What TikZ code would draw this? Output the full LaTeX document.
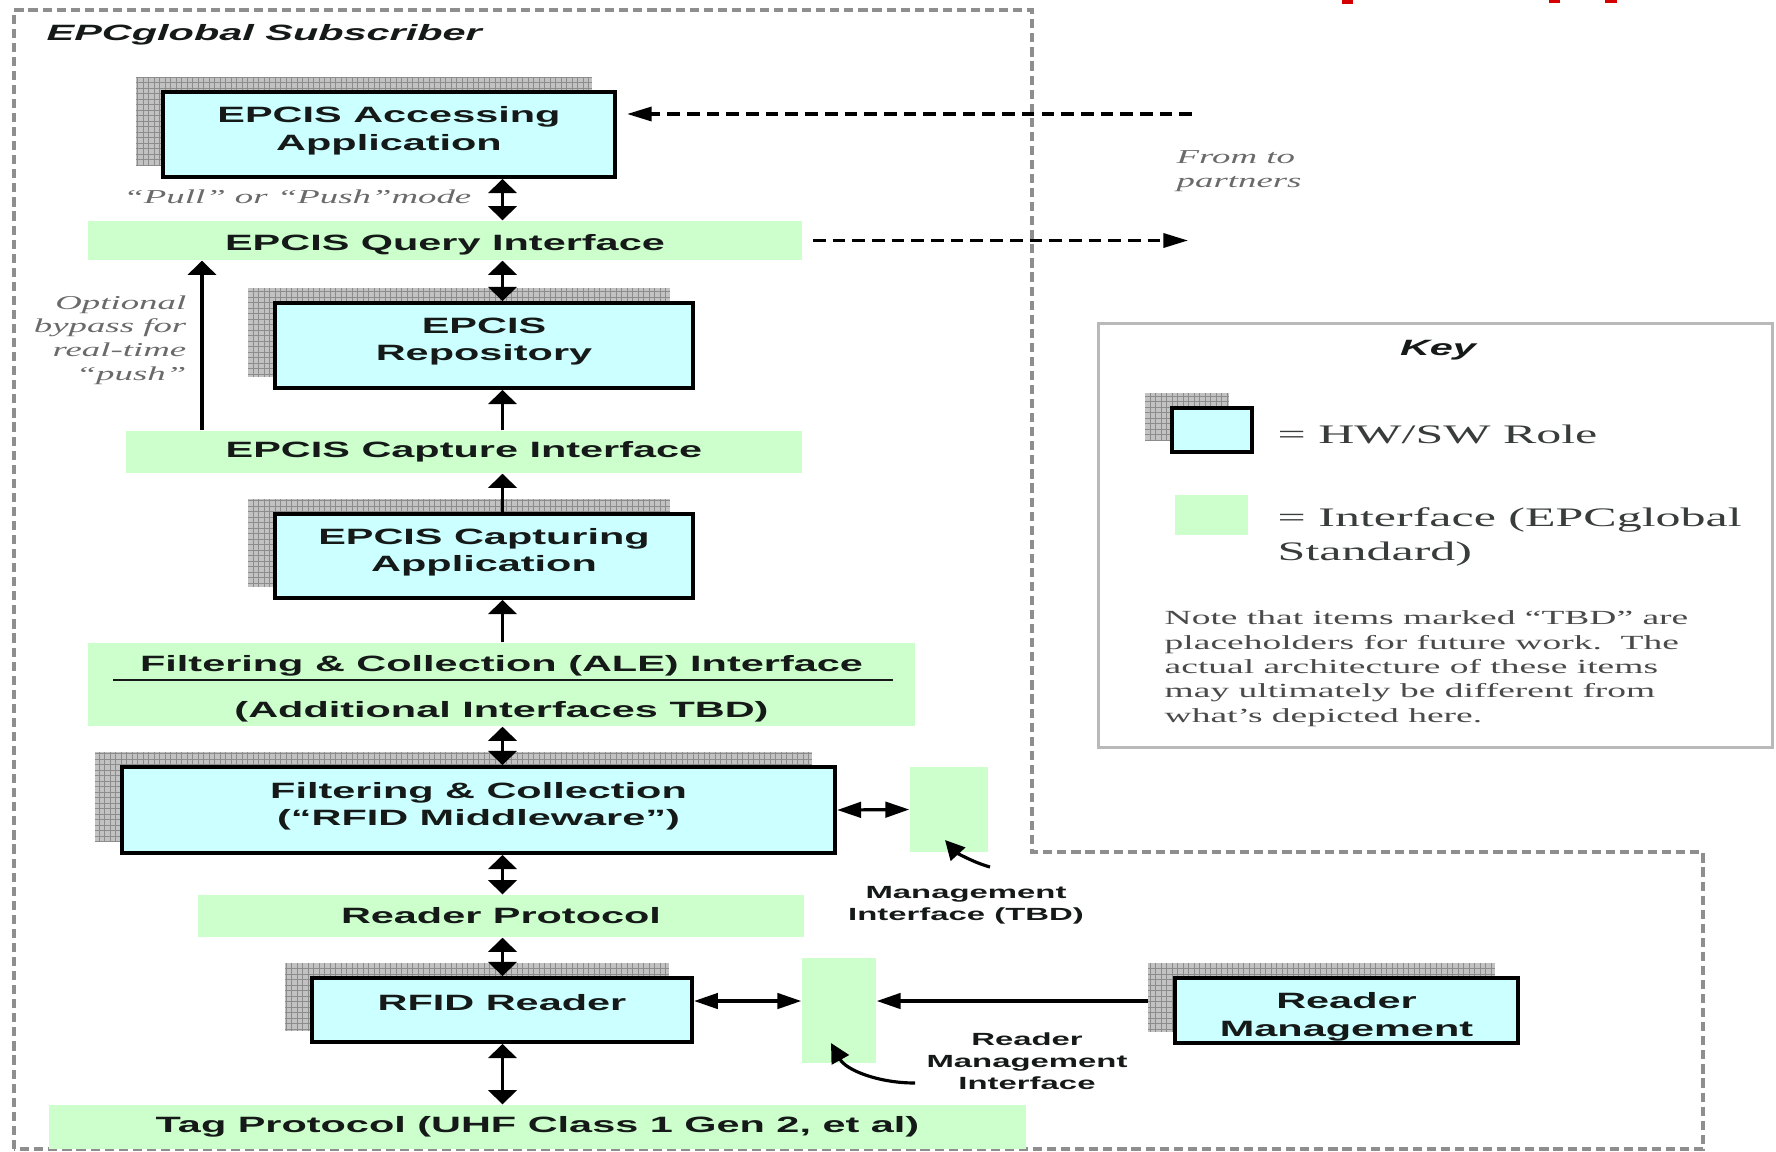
\documentclass[tikz,border=0pt]{standalone}
\usepackage{fontspec}
\setmainfont{Liberation Serif}
\newfontfamily\sfst[FakeStretch=1.87]{Liberation Sans}
\newfontfamily\rmst[FakeStretch=1.87]{Liberation Serif}
\usetikzlibrary{arrows.meta,backgrounds}
\definecolor{rolecyan}{HTML}{CCFFFF}
\definecolor{ifgreen}{HTML}{CCFFCC}
\definecolor{inkdark}{HTML}{151A18}
\definecolor{bordgray}{HTML}{8E8E8E}
\definecolor{labgray}{HTML}{6A6A6A}
\definecolor{notegray}{HTML}{4A4A4A}
\definecolor{shadegray}{HTML}{C2C2C2}
\definecolor{shadeline}{HTML}{8C8C8C}
\definecolor{slidered}{HTML}{D40000}
\newcommand\dgLbl{\sfst\bfseries\fontsize{6.3}{7.8}\selectfont}
\newcommand\dgTitle{\sfst\bfseries\itshape\fontsize{6.3}{7.6}\selectfont}
\newcommand\dgSml{\sfst\bfseries\fontsize{5.0}{6.2}\selectfont}
\newcommand\dgIt{\rmst\itshape\fontsize{5.6}{6.7}\selectfont}
\newcommand\dgKey{\rmst\fontsize{7.6}{9.4}\selectfont}
\newcommand\dgNote{\rmst\fontsize{5.7}{6.9}\selectfont}
\newcommand\dgLow{\rule[-0.12cm]{0pt}{0.12cm}}
\newcommand\gridshade[1]{%
  \path ([xshift=-0.25cm,yshift=0.13cm]#1.south west) coordinate (gsA)
        ([xshift=-0.25cm,yshift=0.13cm]#1.north east) coordinate (gsB);
  \begin{scope}
    \clip (gsA) rectangle (gsB);
    \fill[shadegray] (gsA) rectangle (gsB);
    \draw[shadeline,line width=0.25pt,step=0.055cm] (gsA) grid (gsB);
  \end{scope}}
\begin{document}
\begin{tikzpicture}[x=0.01cm,y=-0.01cm,
  rolebox/.style={draw=black,line width=1.1pt,fill=rolecyan,inner sep=0pt,font=\dgLbl,align=center,text=inkdark},
  ifband/.style={fill=ifgreen,inner sep=0pt,font=\dgLbl,align=center,text=inkdark},
  txt/.style={inner sep=0pt},
  dblv/.style={line width=1.1pt,{Triangle[length=4pt,width=8pt]}-{Triangle[length=4pt,width=8pt]}},
  upv/.style={line width=1.1pt,-{Triangle[length=4pt,width=8pt]}},
  dblh/.style={line width=0.9pt,{Triangle[length=6.8pt,width=4.4pt]}-{Triangle[length=6.8pt,width=4.4pt]}},
  dasharr/.style={line width=0.9pt,dash pattern=on 3.6pt off 2pt,-{Triangle[length=7pt,width=4pt]}},
  curvarr/.style={line width=0.9pt,-{Triangle[length=5.5pt,width=5.5pt]}},
  subbound/.style={draw=bordgray,line width=1.05pt,dash pattern=on 2.6pt off 1.4pt}]
\useasboundingbox (0,0) rectangle (1776,1151);

% subscriber boundary
\draw[subbound] (14,1149) -- (14,10) -- (1032,10) -- (1032,852) -- (1703,852) -- (1703,1149) -- cycle;
\node[txt,font=\dgTitle,text=inkdark,anchor=base west] (title) at (46,40) {EPCglobal Subscriber};

% slide title fragments
\fill[slidered] (1342,0) rectangle (1353,4);
\fill[slidered] (1549,0) rectangle (1560,3);
\fill[slidered] (1605,0) rectangle (1617,3);

% key box
\node[draw=gray!55,line width=0.9pt,minimum width=6.73cm,minimum height=4.23cm,inner sep=0pt] (keybox) at (1435.5,535.5) {};
\node[txt,font=\dgTitle,text=inkdark,anchor=base] (keyttl) at (1438,355) {Key};
\node[rolebox,line width=1pt,minimum width=0.80cm,minimum height=0.44cm] (keyrole) at (1212,430) {};
\node[ifband,minimum width=0.73cm,minimum height=0.40cm] (keyif) at (1211.5,515) {};
\node[txt,font=\dgKey,text=inkdark!85,anchor=base west] (keyrolelab) at (1277,443) {= HW/SW Role};
\node[txt,font=\dgKey,text=inkdark!85,align=left,anchor=base west] (keyiflab) at (1277,560) {= Interface (EPCglobal\\Standard)};
\node[txt,font=\dgNote,text=notegray,align=left,anchor=base west] (note) at (1164,722)
  {Note that items marked “TBD” are\\placeholders for future work.\ \ The\\actual architecture of these items\\may ultimately be different from\\what’s depicted here.};

% interface bands
\node[ifband,minimum width=7.14cm,minimum height=0.39cm] (query) at (445,240.5) {\rule{0pt}{0.24cm}EPCIS Query Interface};
\node[ifband,minimum width=6.76cm,minimum height=0.42cm] (capture) at (464,452) {EPCIS Capture Interface};
\node[ifband,minimum width=8.27cm,minimum height=0.83cm] (ale) at (501.5,684.5) {};
\node[txt,font=\dgLbl,text=inkdark,anchor=base] (aleA) at (501.5,671) {Filtering \& Collection (ALE) Interface};
\node[txt,font=\dgLbl,text=inkdark,anchor=base] (aleB) at (501.5,717) {(Additional Interfaces TBD)};
\draw[inkdark,line width=0.75pt] (113,680) -- (893,680);
\node[ifband,minimum width=0.78cm,minimum height=0.85cm] (mgmt) at (949,809.5) {};
\node[ifband,minimum width=6.06cm,minimum height=0.42cm] (rp) at (501,916) {Reader Protocol};
\node[ifband,minimum width=0.74cm,minimum height=1.05cm] (rmi) at (839,1010.5) {};
\node[ifband,minimum width=9.76cm,minimum height=0.44cm] (tag) at (537.5,1127) {Tag Protocol (UHF Class 1 Gen 2, et al)};

% role boxes
\node[rolebox,minimum width=4.52cm,minimum height=0.85cm] (acc) at (389,134.5) {EPCIS Accessing\\Application\dgLow};
\node[rolebox,minimum width=4.18cm,minimum height=0.85cm] (repo) at (484,345.5) {EPCIS\\Repository\dgLow};
\node[rolebox,minimum width=4.18cm,minimum height=0.84cm] (capting) at (484,556) {EPCIS Capturing\\Application\dgLow};
\node[rolebox,minimum width=7.13cm,minimum height=0.86cm] (filt) at (478.5,810) {Filtering \& Collection\\(“RFID Middleware”)\dgLow};
\node[rolebox,minimum width=3.80cm,minimum height=0.64cm] (rfid) at (502,1010) {RFID Reader\rule[-0.16cm]{0pt}{0.16cm}};
\node[rolebox,minimum width=3.43cm,minimum height=0.65cm] (rmgr) at (1346.5,1010.5) {\rule{0pt}{0.29cm}Reader\\Management};

% labels
\node[txt,font=\dgIt,text=labgray,anchor=base east] (pullpush) at (472,203) {“Pull” or “Push”mode};
\node[txt,font=\dgIt,text=labgray,align=right,anchor=base east] (bypass) at (187,380) {Optional\\bypass for\\real-time\\“push”};
\node[txt,font=\dgIt,text=labgray,align=left,anchor=base west] (partners) at (1176,187) {From to\\partners};
\node[txt,font=\dgSml,text=inkdark,align=center,anchor=base] (mgmtlab) at (966,920) {Management\\Interface (TBD)};
\node[txt,font=\dgSml,text=inkdark,align=center,anchor=base] (rmilab) at (1027,1089) {Reader\\Management\\Interface};

% connectors
\coordinate (spine) at (502.5,0);
\coordinate (byp) at (202,0);
\coordinate (rmy) at (0,1001);
\coordinate (pin) at (1192,114);
\coordinate (pout) at (1188,240.5);
\draw[dblv] (acc.south -| spine) -- (query.north -| spine);
\draw[dblv] (query.south -| spine) -- (repo.north -| spine);
\draw[upv] (capture.north -| spine) -- (repo.south -| spine);
\draw[upv] (capting.north -| spine) -- (capture.south -| spine);
\draw[upv] (ale.north -| spine) -- (capting.south -| spine);
\draw[dblv] (ale.south -| spine) -- (filt.north -| spine);
\draw[dblv] (filt.south -| spine) -- (rp.north -| spine);
\draw[dblv] (rp.south -| spine) -- (rfid.north -| spine);
\draw[dblv] (rfid.south -| spine) -- (tag.north -| spine);
\draw[upv,line width=0.9pt] (capture.north -| byp) -- (query.south -| byp);
\draw[dblh] (filt.east) -- (mgmt.west);
\draw[dblh] (rfid.east |- rmy) -- (rmi.west |- rmy);
\draw[dasharr,shorten >=0.1cm] (pin) -- (acc.east |- pin);
\draw[dasharr,shorten <=0.1cm] (query.east) -- (pout);
\coordinate (ca0) at (990,867);
\coordinate (ca1) at (945,840);
\draw[curvarr] (ca0) .. controls (972,862) and (956,852) .. (ca1);
\coordinate (cb0) at (915,1083);
\coordinate (cb1) at (831,1043);
\draw[curvarr] (cb0) .. controls (878,1083) and (846,1070) .. (cb1);

% background: page, hatched shadows
\begin{scope}[on background layer]
  \fill[white] (0,0) rectangle (1776,1151);
  \gridshade{acc}
  \gridshade{repo}
  \gridshade{capting}
  \gridshade{filt}
  \gridshade{rfid}
  \gridshade{keyrole}
  \draw[dblh] (rmi.east |- rmy) -- (rmgr.west |- rmy);
  \gridshade{rmgr}
\end{scope}
\end{tikzpicture}
\end{document}
